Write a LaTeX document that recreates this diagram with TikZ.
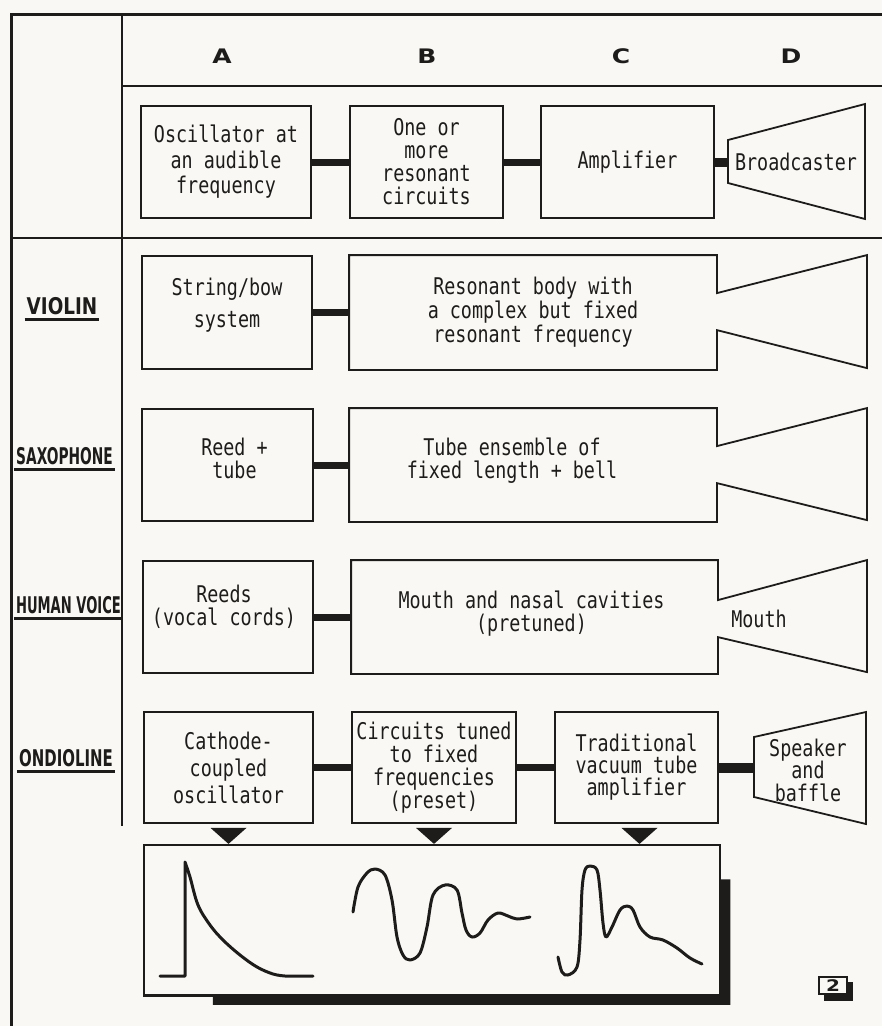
\documentclass[tikz,border=0pt]{standalone}
\usepackage{fontspec}
\setmainfont{DejaVu Sans Mono}[FakeStretch=0.8]
\newfontfamily\headfont{DejaVu Sans}[FakeStretch=1.25]
\newfontfamily\instfont{DejaVu Sans}[FakeStretch=0.57]
\definecolor{paper}{HTML}{F9F8F4}
\definecolor{ink}{HTML}{1E1C1B}

\begin{document}
\begin{tikzpicture}[x=1pt, y=-1pt, line join=miter,
    blk/.style={draw=ink, line width=1.8pt, inner sep=2pt, align=center, text=ink,
        font=\fontsize{23}{24}\selectfont, minimum height=112pt},
    body/.style={blk, draw=none},
    txt/.style={align=center, text=ink, inner sep=0pt, font=\fontsize{23}{24}\selectfont},
    colhead/.style={text=ink, font=\headfont\bfseries\fontsize{20}{20}\selectfont},
    inst/.style={text=ink, inner xsep=2pt, inner ysep=4pt, font=\instfont\bfseries\fontsize{23}{23}\selectfont},
    uline/.style={ink, line width=2.5pt},
    horn/.style={ink, line width=1.8pt},
    bar/.style={ink, line width=7pt},
    wave/.style={ink, line width=3pt, line cap=round, line join=round}]

    \fill[paper] (0,0) rectangle (882,1026);
    \useasboundingbox (0,0) rectangle (882,1026);

    % frame
    \draw[ink, line width=3pt] (11,1026) -- (11,14) -- (882,14);
    \draw[ink, line width=1.5pt] (122,14) -- (122,826);
    \draw[ink, line width=1.5pt] (122,86) -- (882,86);
    \draw[ink, line width=2pt] (11,238) -- (882,238);

    \node[colhead] (colA) at (222,56.5) {A};
    \node[colhead] (colB) at (427,56.5) {B};
    \node[colhead] (colC) at (621,56.5) {C};
    \node[colhead] (colD) at (791,56.5) {D};

    % generic chain
    \node[blk, minimum width=170pt] (oscT) at (226,162) {Oscillator at\\[1.5pt]an audible\\[1.5pt]frequency};
    \node[blk, minimum width=153pt, font=\fontsize{23}{23}\selectfont] (resT) at (426.5,162) {One or\\more\\resonant\\circuits};
    \node[blk, minimum width=173pt] (ampT) at (627.5,162) {Amplifier};
    \draw[horn] (728,140) -- (865,104) -- (865,219) -- (728,183) -- cycle;
    \node[txt] (bcast) at (796,162) {Broadcaster};
    \coordinate (bcastW) at (728,162);
    \draw[bar] (oscT) -- (resT);
    \draw[bar] (resT) -- (ampT);
    \draw[bar, line width=9pt] (ampT) -- (bcastW);

    % violin
    \node[inst] (violin) at (62,306.5) {\scalebox{1.4}[1]{VIOLIN}};
    \draw[uline] (violin.south west) -- (violin.south east);
    \node[blk, minimum width=170pt, minimum height=113pt,
        label={[txt, yshift=7pt]center:{String/bow\\[8pt]system}}] (stringV) at (227,312.5) {};
    \node[body, minimum width=366pt, minimum height=113pt] (bodyV) at (533,312.5) {Resonant body with\\a complex but fixed\\resonant frequency};
    \draw[horn] (bodyV.north east) -- ++(0,38) -- ++(150,-38) -- ++(0,113) -- ++(-150,-38)
        -- (bodyV.south east) -- (bodyV.south west) -- (bodyV.north west) -- cycle;
    \draw[bar] (stringV) -- (bodyV);

    % saxophone
    \node[inst] (sax) at (64.5,456.5) {\scalebox{1.05}[1]{SAXOPHONE}};
    \draw[uline] (sax.south west) -- (sax.south east);
    \node[blk, minimum width=171pt,
        label={[txt, xshift=7pt, yshift=6.5pt]center:{Reed +\\[-1pt]tube}}] (reedS) at (227.5,465) {};
    \node[body, minimum width=366pt] (bodyS) at (533,465) {};
    \node[txt] (tubeS) at (512,461) {Tube ensemble of\\[-1pt]fixed length + bell};
    \draw[horn] (bodyS.north east) -- ++(0,38) -- ++(150,-38) -- ++(0,112) -- ++(-150,-37)
        -- (bodyS.south east) -- (bodyS.south west) -- (bodyS.north west) -- cycle;
    \draw[bar] (reedS) -- (bodyS);

    % human voice
    \node[inst] (voice) at (68.5,605.5) {HUMAN VOICE};
    \draw[uline] (voice.south west) -- (voice.south east);
    \node[blk, minimum width=170pt,
        label={[txt, xshift=-4pt, yshift=10pt]center:{Reeds\\[-1pt](vocal cords)}}] (reedsH) at (228,617) {};
    \node[body, minimum width=365pt,
        label={[txt, xshift=-3pt, yshift=3pt]center:{Mouth and nasal cavities\\[-1pt](pretuned)}}] (bodyH) at (534.5,617) {};
    \draw[horn] (bodyH.north east) -- ++(0,40) -- ++(149,-40) -- ++(0,112) -- ++(-149,-35)
        -- (bodyH.south east) -- (bodyH.south west) -- (bodyH.north west) -- cycle;
    \node[txt] (mouth) at (759,619) {Mouth};
    \draw[bar] (reedsH) -- (bodyH);

    % ondioline
    \node[inst] (ondio) at (66,758.5) {\scalebox{1.14}[1]{ONDIOLINE}};
    \draw[uline] (ondio.south west) -- (ondio.south east);
    \node[blk, minimum width=169pt, minimum height=111pt] (oscO) at (228.5,767.5) {Cathode-\\[3pt]coupled\\[3pt]oscillator};
    \node[blk, minimum width=164pt, minimum height=111pt, font=\fontsize{23}{23}\selectfont] (circO) at (434,767.5) {Circuits tuned\\to fixed\\frequencies\\(preset)};
    \node[blk, minimum width=163pt, minimum height=111pt, font=\fontsize{23}{22}\selectfont] (ampO) at (636.5,767.5) {Traditional\\vacuum tube\\amplifier};
    \draw[horn] (754,737) -- (866,712) -- (866,824) -- (754,797) -- cycle;
    \node[txt, font=\fontsize{23}{22.5}\selectfont] (spk) at (808,770) {Speaker\\and\\baffle};
    \coordinate (spkW) at (754,767.5);
    \draw[bar] (oscO) -- (circO);
    \draw[bar] (circO) -- (ampO);
    \draw[bar, line width=10pt] (ampO) -- (spkW);

    \fill[ink] ([shift={(-18,4)}]oscO.south) -- ++(36,0) -- ++(-18,16) -- cycle;
    \fill[ink] ([shift={(-18,4)}]circO.south) -- ++(36,0) -- ++(-18,16) -- cycle;
    \fill[ink] ([shift={(-15,4)}]ampO.south) -- ++(36,0) -- ++(-18,16) -- cycle;

    % waveforms
    \node[draw=ink, fill=paper, line width=1.5pt, minimum width=575pt, minimum height=150pt] (waves) at (432,920) {};
    \fill[ink] ([shift={(0,35)}]waves.north east) -- ++(10,0) |- ([shift={(69,9)}]waves.south west)
        -- ++(0,-9) -- (waves.south east) -- cycle;
    \draw[ink, line width=1.5pt] (waves.north west) rectangle (waves.south east);
    \draw[wave] (160,976) -- (185,976) -- (185,862) -- plot[smooth, tension=0.6] coordinates {(185,862) (190,877) (198,905) (210,925) (223,940) (240,955) (257,967) (273,974) (285,976)} -- (313,976);
    \draw[wave] plot[smooth, tension=0.55] coordinates {(353,912) (358,887) (367,873) (375,869) (385,875) (392,900) (397,937) (403,955) (410,960) (420,953) (427,927) (433,895) (445,885) (457,890) (462,913) (466,930) (472,937) (480,933) (488,920) (498,913) (508,916) (517,919) (530,917)};
    \draw[wave] plot[smooth, tension=0.55] coordinates {(558,957) (562,972) (568,975) (577,967) (580,940) (582,890) (585,870) (590,866) (597,870) (600,890) (603,923) (606,937) (612,927) (620,910) (627,906) (633,910) (640,927) (650,937) (663,940) (677,948) (690,958) (702,964)};

    \fill[ink] (824,982) rectangle (853,1001);
    \node[draw=ink, fill=paper, line width=1.5pt, minimum width=28pt, minimum height=17pt, inner sep=0pt,
        text=ink, font=\headfont\bfseries\fontsize{16}{16}\selectfont] (badge) at (833,985.5) {2};
\end{tikzpicture}
\end{document}
